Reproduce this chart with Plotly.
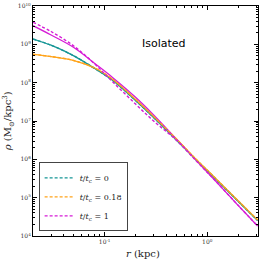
import plotly.graph_objects as go

# radius samples (kpc)
r_kpc = [0.02, 0.03, 0.05, 0.08, 0.12, 0.2, 0.3, 0.5, 0.8, 1.2, 2.0, 3.1]

# log10 density (Msun/kpc^3)
logrho_t0 = [9.139, 8.977, 8.700, 8.369, 8.056, 7.535, 7.091, 6.504, 5.956, 5.497, 4.905, 4.405]
logrho_t018 = [8.740, 8.682, 8.578, 8.382, 8.082, 7.561, 7.117, 6.530, 5.969, 5.510, 4.918, 4.418]
logrho_t1 = [9.486, 9.243, 8.917, 8.500, 8.130, 7.620, 7.160, 6.530, 5.940, 5.440, 4.800, 4.260]
logrho_t1_dash = [9.575, 9.335, 8.956, 8.487, 8.017, 7.443, 7.000, 6.500, 5.930, 5.440, 4.800, 4.260]

labels = ["<i>t</i>/<i>t</i><sub>c</sub> = 0",
          "<i>t</i>/<i>t</i><sub>c</sub> = 0.18",
          "<i>t</i>/<i>t</i><sub>c</sub> = 1"]
colors = ["#159595", "#ffa31a", "#d61bd6"]

ytick_vals = [1e4, 1e5, 1e6, 1e7, 1e8, 1e9, 1e10]
ytick_text = ["10<sup>4</sup>", "10<sup>5</sup>", "10<sup>6</sup>", "10<sup>7</sup>",
              "10<sup>8</sup>", "10<sup>9</sup>", "10<sup>10</sup>"]
xtick_vals = [0.1, 1.0]
xtick_text = ["10<sup>-1</sup>", "10<sup>0</sup>"]

def lin(v):
    return [10 ** a for a in v]

fig = go.Figure()
solid_sets = [logrho_t0, logrho_t018, logrho_t1]
dash_sets = [logrho_t0, logrho_t018, logrho_t1_dash]
for vals, c in zip(solid_sets, colors):
    fig.add_trace(go.Scatter(x=r_kpc, y=lin(vals), mode="lines", showlegend=False,
                             line=dict(color=c, width=1.3, shape="spline", smoothing=1.0),
                             hoverinfo="skip"))
for vals, c, lab in zip(dash_sets, colors, labels):
    fig.add_trace(go.Scatter(x=r_kpc, y=lin(vals), mode="lines", name=lab,
                             line=dict(color=c, width=1.4, dash="3px,2px", shape="spline",
                                       smoothing=1.0)))

axis_common = dict(showline=True, linecolor="black", linewidth=1, mirror="allticks",
                   ticks="inside", ticklen=4, tickcolor="black", showgrid=False, zeroline=False,
                   automargin=False,
                   tickfont=dict(family="DejaVu Serif", size=6, color="#333"),
                   minor=dict(ticks="inside", ticklen=2, tickcolor="black", dtick="D1", showgrid=False))

fig.update_xaxes(type="log", range=[-1.699, 0.495], tickvals=xtick_vals, ticktext=xtick_text,
                 **axis_common)
fig.update_yaxes(type="log", range=[4, 10], tickvals=ytick_vals, ticktext=ytick_text,
                 **axis_common)

fig.add_annotation(x=0.49, y=-0.075, xref="paper", yref="paper", text="<i>r</i> (kpc)",
                   showarrow=False, yanchor="middle",
                   font=dict(family="DejaVu Serif", size=10, color="#222"))
fig.add_annotation(x=-0.11, y=0.50, xref="paper", yref="paper",
                   text="<i>ρ</i> (M<sub>⊙</sub>/kpc<sup>3</sup>)", textangle=-90,
                   showarrow=False, xanchor="center",
                   font=dict(family="DejaVu Serif", size=10, color="#222"))
fig.add_annotation(x=0.69, y=0.875, xref="paper", yref="paper", text="Isolated", showarrow=False,
                   font=dict(family="DejaVu Sans", size=11, color="black"))

fig.update_layout(
    width=261, height=262,
    margin=dict(l=33, r=3, t=6, b=26, autoexpand=False),
    plot_bgcolor="white", paper_bgcolor="white",
    legend=dict(x=0.025, y=0.02, xanchor="left", yanchor="bottom",
                bgcolor="white", bordercolor="#444", borderwidth=1,
                font=dict(family="DejaVu Serif", size=8, color="#222"),
                itemwidth=30, tracegroupgap=0),
)

fig.write_html("out.html", config={"displayModeBar": False},
               post_script="document.body.style.margin='0';document.body.style.padding='0';"
                           "document.documentElement.style.overflow='hidden';")
